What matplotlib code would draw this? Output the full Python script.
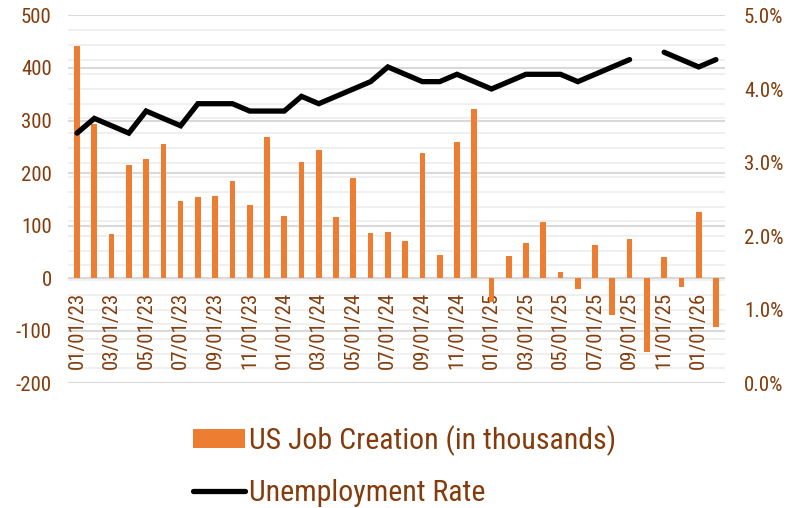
import matplotlib
matplotlib.use("Agg")
import matplotlib.pyplot as plt
import numpy as np
from matplotlib.patches import Patch
from matplotlib.lines import Line2D

dates = ["01/01/23","02/01/23","03/01/23","04/01/23","05/01/23","06/01/23","07/01/23","08/01/23",
         "09/01/23","10/01/23","11/01/23","12/01/23","01/01/24","02/01/24","03/01/24","04/01/24",
         "05/01/24","06/01/24","07/01/24","08/01/24","09/01/24","10/01/24","11/01/24","12/01/24",
         "01/01/25","02/01/25","03/01/25","04/01/25","05/01/25","06/01/25","07/01/25","08/01/25",
         "09/01/25","10/01/25","11/01/25","12/01/25","01/01/26","02/01/26"]
jobs = [442, 294, 84, 215, 226, 255, 146, 155, 157, 184, 140, 268, 118, 221, 244, 116,
        191, 86, 87, 70, 238, 43, 259, 321, -45, 41, 66, 107, 11, -20, 63, -70,
        75, -140, 40, -18, 125, -93]
unemp = [3.4, 3.6, 3.5, 3.4, 3.7, 3.6, 3.5, 3.8, 3.8, 3.8, 3.7, 3.7, 3.7, 3.9, 3.8, 3.9,
         4.0, 4.1, 4.3, 4.2, 4.1, 4.1, 4.2, 4.1, 4.0, 4.1, 4.2, 4.2, 4.2, 4.1, 4.2, 4.3,
         4.4, np.nan, 4.5, 4.4, 4.3, 4.4]
left_ticks = [-200, -100, 0, 100, 200, 300, 400, 500]
right_ticks = [0.0, 1.0, 2.0, 3.0, 4.0, 5.0]

BAR = "#ED7D31"
TXT = "#843C0C"
plt.rcParams['font.family'] = ['Roboto Condensed', 'DejaVu Sans']
plt.rcParams['axes.unicode_minus'] = False

fig = plt.figure(figsize=(7.88, 5.08), dpi=100)
ax = fig.add_axes([0.0868, 0.246, 0.8327, 0.7235])
ax2 = ax.twinx()

x = np.arange(len(dates))

ax.spines['bottom'].set_position(('data', 0))
for s in ax.spines.values():
    s.set_visible(False)
for s in ax2.spines.values():
    s.set_visible(False)

ax.set_ylim(-200, 500)
ax2.set_ylim(0, 5.0)

# light grid at every 0.2% of the secondary scale, drawn in the primary axes
ax.set_yticks(left_ticks)
ax.set_yticks(np.linspace(-200, 500, 26), minor=True)
ax.set_yticklabels([str(v) for v in left_ticks])
ax.grid(which='minor', axis='y', color='#eeeeee', lw=1.3)
ax.grid(which='major', axis='y', color='#d9d9d9', lw=1.5)
ax.set_axisbelow(True)
ax.xaxis.set_zorder(1)
ax.tick_params(axis='y', which='both', length=0, pad=12, labelcolor=TXT, labelsize=15)

ax2.set_yticks(right_ticks)
ax2.set_yticklabels([f"{v:.1f}%" for v in right_ticks], color=TXT, fontsize=15)
ax2.tick_params(axis='y', which='both', length=0, pad=14)

ax.set_xlim(-0.5, len(dates) - 0.5)
ax.bar(x, jobs, width=0.33, color=BAR, zorder=3)
ax.set_xticks(x[::2])
ax.set_xticklabels(dates[::2], rotation=90, color=TXT, fontsize=15, va='top', ha='center')
ax.tick_params(axis='x', length=0, pad=10)

ax2.plot(x, unemp, color='black', lw=3.8, solid_capstyle='round', solid_joinstyle='miter', zorder=5)

handles = [Patch(facecolor=BAR, edgecolor='none', label='US Job Creation (in thousands)'),
           Line2D([0], [0], color='black', lw=3.8, solid_capstyle='round', label='Unemployment Rate')]
leg = fig.legend(handles=handles, loc='upper left', bbox_to_anchor=(0.245, 0.163),
                 frameon=False, fontsize=21.5, handlelength=1.75, handleheight=0.58,
                 handletextpad=0.12, labelspacing=0.78, borderaxespad=0, borderpad=0)
for t in leg.get_texts():
    t.set_color(TXT)

fig.savefig("out.png", dpi=100)
